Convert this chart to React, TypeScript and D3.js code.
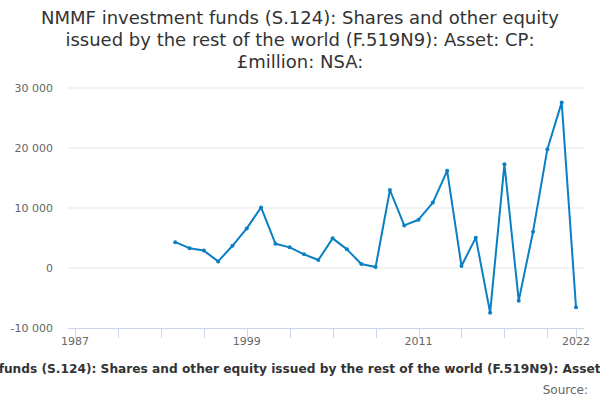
import React, { useRef, useEffect } from "react";
import * as d3 from "d3";

const years = [
  1994, 1995, 1996, 1997, 1998, 1999, 2000, 2001, 2002, 2003, 2004, 2005,
  2006, 2007, 2008, 2009, 2010, 2011, 2012, 2013, 2014, 2015, 2016, 2017,
  2018, 2019, 2020, 2021, 2022,
];
const values = [
  4300, 3300, 2900, 1100, 3700, 6600, 10100, 4050, 3440, 2280, 1330, 4940,
  3110, 670, 150, 13000, 7100, 8050, 10900, 16200, 330, 5060, -7440, 17300,
  -5440, 6050, 19800, 27600, -6560,
];
const yTicks = [-10000, 0, 10000, 20000, 30000];
const xTickYears = [1987, 1990, 1993, 1996, 1999, 2002, 2005, 2008, 2011, 2014, 2017, 2020, 2022];
const xLabelYears = [1987, 1999, 2011, 2022];

const titleLines = [
  "NMMF investment funds (S.124): Shares and other equity",
  "issued by the rest of the world (F.519N9): Asset: CP:",
  "£million: NSA:",
];
const subtitle =
  "NMMF investment funds (S.124): Shares and other equity issued by the rest of the world (F.519N9): Asset: CP: £million: NSA:";

const W = 600;
const H = 400;
const font = "'DejaVu Sans', sans-serif";

export default function App() {
  const svgRef = useRef<SVGSVGElement>(null);

  useEffect(() => {
    if (!svgRef.current) return;
    const svg = d3.select(svgRef.current);
    svg.selectAll("*").remove();

    const x = d3.scaleLinear().domain([1987, 2022]).range([75, 576]);
    const y = d3.scaleLinear().domain([-10000, 30000]).range([328, 88]);

    svg
      .append("g")
      .selectAll("text")
      .data(titleLines)
      .enter()
      .append("text")
      .attr("x", W / 2)
      .attr("y", (d, i) => 24 + i * 22)
      .attr("text-anchor", "middle")
      .attr("font-family", font)
      .attr("font-size", 18)
      .attr("fill", "#333333")
      .text((d) => d);

    // grid
    svg
      .append("g")
      .selectAll("line")
      .data(yTicks.filter((t) => t !== -10000))
      .enter()
      .append("line")
      .attr("x1", 68)
      .attr("x2", 584)
      .attr("y1", (d) => y(d))
      .attr("y2", (d) => y(d))
      .attr("stroke", "#e6e6e6")
      .attr("stroke-width", 1);

    const fmt = (v: number) =>
      d3.format(",")(v).replace(/,/g, " ").replace("\u2212", "-");
    svg
      .append("g")
      .selectAll("text")
      .data(yTicks)
      .enter()
      .append("text")
      .attr("x", 53)
      .attr("y", (d) => y(d) + 4)
      .attr("text-anchor", "end")
      .attr("font-family", font)
      .attr("font-size", 11)
      .attr("fill", "#666666")
      .text((d) => fmt(d));

    // x axis
    svg
      .append("line")
      .attr("x1", 68)
      .attr("x2", 584)
      .attr("y1", 328.5)
      .attr("y2", 328.5)
      .attr("stroke", "#ccd6eb");

    svg
      .append("g")
      .selectAll("line")
      .data(xTickYears)
      .enter()
      .append("line")
      .attr("x1", (d) => Math.round(x(d)) + 0.5)
      .attr("x2", (d) => Math.round(x(d)) + 0.5)
      .attr("y1", 328)
      .attr("y2", 338)
      .attr("stroke", "#ccd6eb");

    svg
      .append("g")
      .selectAll("text")
      .data(xLabelYears)
      .enter()
      .append("text")
      .attr("x", (d) => x(d))
      .attr("y", 345)
      .attr("text-anchor", "middle")
      .attr("font-family", font)
      .attr("font-size", 11)
      .attr("fill", "#666666")
      .text((d) => String(d));

    const pts = years.map((yr, i) => [yr, values[i]] as [number, number]);
    const line = d3
      .line<[number, number]>()
      .x((d) => x(d[0]))
      .y((d) => y(d[1]));

    svg
      .append("path")
      .attr("d", line(pts))
      .attr("fill", "none")
      .attr("stroke", "#0a7fc3")
      .attr("stroke-width", 2)
      .attr("stroke-linejoin", "round");

    svg
      .append("g")
      .selectAll("circle")
      .data(pts)
      .enter()
      .append("circle")
      .attr("cx", (d) => x(d[0]))
      .attr("cy", (d) => y(d[1]))
      .attr("r", 2)
      .attr("fill", "#0a7fc3");

    svg
      .append("text")
      .attr("x", W / 2 + 2)
      .attr("y", 373)
      .attr("text-anchor", "middle")
      .attr("font-family", font)
      .attr("font-size", 12.2)
      .attr("font-weight", "bold")
      .attr("fill", "#333333")
      .text(subtitle);

    svg
      .append("text")
      .attr("x", 588)
      .attr("y", 394)
      .attr("text-anchor", "end")
      .attr("font-family", font)
      .attr("font-size", 12)
      .attr("fill", "#666666")
      .text("Source:");
  }, []);

  return (
    <div style={{ position: "absolute", left: 0, top: 0, width: W, height: H }}>
      <svg ref={svgRef} width={W} height={H} viewBox={`0 0 ${W} ${H}`} />
    </div>
  );
}
